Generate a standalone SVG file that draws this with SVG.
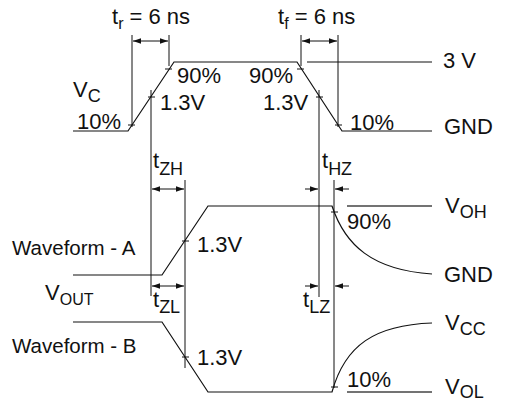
<svg xmlns="http://www.w3.org/2000/svg" width="509" height="403" viewBox="0 0 509 403">
<style>
text{font-family:"Liberation Sans",Arial,sans-serif;font-size:22px;fill:#111}
.s{font-size:18px}
.s2{font-size:16px}
.wf{font-size:20.5px}
.w{stroke:#111;stroke-width:1.2;fill:none}
.g{stroke:#444;stroke-width:1.5;fill:none}
.d{stroke:#111;stroke-width:1;fill:none}
.tk{stroke:#111;stroke-width:1}
</style>
<defs>
<marker id="a" viewBox="0 0 10 10" refX="10" refY="5" markerWidth="8" markerHeight="8" orient="auto-start-reverse" markerUnits="userSpaceOnUse"><path d="M0,1.5L10,5L0,8.5z" fill="#111"/></marker>
</defs>
<rect width="509" height="403" fill="#fff"/>
<g id="connectors">
<path class="w" d="M73,131H128L174,62H297L342,131H432"/>
<line class="w" x1="307" y1="62" x2="432" y2="62"/>
<path class="w" d="M73,275H162L208,206H332C345,245 372,270 432,274"/>
<line class="g" x1="347" y1="206" x2="432" y2="206"/>
<path class="w" d="M73,322H162L208,392H332C345,345 375,325 432,323"/>
<line class="g" x1="347" y1="392" x2="432" y2="392"/>
<line class="d" x1="132" y1="35" x2="132" y2="127"/>
<line class="d" x1="169" y1="35" x2="169" y2="66"/>
<line class="d" x1="151" y1="90" x2="151" y2="296"/>
<line class="d" x1="185" y1="180" x2="185" y2="368"/>
<line class="d" x1="301" y1="35" x2="301" y2="66"/>
<line class="d" x1="338" y1="35" x2="338" y2="127"/>
<line class="d" x1="319" y1="90" x2="319" y2="297"/>
<line class="d" x1="334" y1="180" x2="334" y2="388"/>
<line class="d" x1="133" y1="41" x2="168" y2="41" marker-start="url(#a)" marker-end="url(#a)"/>
<line class="d" x1="302" y1="41" x2="337" y2="41" marker-start="url(#a)" marker-end="url(#a)"/>
<line class="d" x1="152" y1="189" x2="184" y2="189" marker-start="url(#a)" marker-end="url(#a)"/>
<line class="d" x1="152" y1="286" x2="184" y2="286" marker-start="url(#a)" marker-end="url(#a)"/>
<line class="d" x1="305" y1="189" x2="318" y2="189" marker-end="url(#a)"/>
<line class="d" x1="349" y1="189" x2="335" y2="189" marker-end="url(#a)"/>
<line class="d" x1="305" y1="286" x2="318" y2="286" marker-end="url(#a)"/>
<line class="d" x1="349" y1="286" x2="335" y2="286" marker-end="url(#a)"/>
<path class="tk" d="M128,125h7M148,97h7M165,69h7M297,69h7M316,97h7M335,125h7M182,241h7M331,212h7M182,357h7M331,387h7"/>
</g>
<g id="labels">
<text x="112" y="24">t<tspan class="s2" dy="5">r</tspan><tspan dy="-5"> = 6 ns</tspan></text>
<text x="278" y="24">t<tspan class="s2" dy="5">f</tspan><tspan dy="-5"> = 6 ns</tspan></text>
<text x="73" y="97">V<tspan class="s" dy="5">C</tspan></text>
<text x="77" y="129">10%</text>
<text x="177" y="83">90%</text>
<text x="160" y="110">1.3V</text>
<text x="249" y="83">90%</text>
<text x="263" y="110">1.3V</text>
<text x="350" y="130">10%</text>
<text x="443" y="68">3 V</text>
<text x="444" y="134">GND</text>
<text x="153" y="168">t<tspan class="s" dy="7">ZH</tspan></text>
<text x="322" y="168">t<tspan class="s" dy="7">HZ</tspan></text>
<text x="12" y="255" class="wf">Waveform - A</text>
<text x="197" y="252">1.3V</text>
<text x="445" y="213">V<tspan class="s" dy="5">OH</tspan></text>
<text x="347" y="229">90%</text>
<text x="444" y="282">GND</text>
<text x="45" y="300">V<tspan class="s2" dy="5">OUT</tspan></text>
<text x="153" y="307">t<tspan class="s" dy="6">ZL</tspan></text>
<text x="303" y="307">t<tspan class="s" dy="6">LZ</tspan></text>
<text x="12" y="353" class="wf">Waveform - B</text>
<text x="197" y="365">1.3V</text>
<text x="445" y="330">V<tspan class="s" dy="5">CC</tspan></text>
<text x="347" y="387">10%</text>
<text x="445" y="394">V<tspan class="s" dy="4">OL</tspan></text>
</g>
</svg>
